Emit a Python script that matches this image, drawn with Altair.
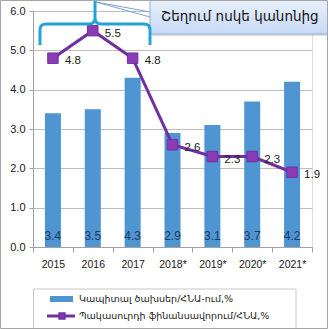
import altair as alt
import pandas as pd

years = ["2015", "2016", "2017", "2018*", "2019*", "2020*", "2021*"]
capex = [3.4, 3.5, 4.3, 2.9, 3.1, 3.7, 4.2]
deficit = [4.8, 5.5, 4.8, 2.6, 2.3, 2.3, 1.9]
series_names = ["Կապիտալ ծախսեր/ՀՆԱ-ում,%", "Պակասուրդի ֆինանսավորում/ՀՆԱ,%"]
callout_text = ["Շեղում ոսկե կանոնից"]
y_ticks = [0, 1, 2, 3, 4, 5, 6]

df = pd.DataFrame({"year": years, "capex": capex, "deficit": deficit})

W, H = 279, 236
BAR = "#4E95D2"
PURPLE = "#7030A0"
MARK = "#8B3BB5"
CYAN = "#24A3D6"
FONT = "Liberation Sans"
ARM = "DejaVu Sans"

xaxis = alt.Axis(labelAngle=0, tickBand="extent", tickSize=5,
                 labelPadding=7, labelFontSize=10.5, labelFont=FONT,
                 labelColor="#202020", domainColor="#A0A0A0",
                 tickColor="#A0A0A0", grid=False)
xscale = alt.Scale(paddingInner=0, paddingOuter=0)
yscale = alt.Scale(domain=[0, 6], nice=False)
yaxis = alt.Axis(values=y_ticks, format=".1f", tickSize=4, labelPadding=4,
                 labelFontSize=11, labelFont=FONT, labelColor="#202020",
                 domainColor="#A0A0A0", tickColor="#A0A0A0",
                 gridColor="#BDBDBD", title=None, labelOverlap=False,
                 tickCount=7)


def X():
    return alt.X("year:N", sort=years, title=None, scale=xscale, axis=xaxis)


def Y(field):
    return alt.Y(field, scale=yscale, axis=yaxis)


base = alt.Chart(df)

bars = base.mark_bar(size=16, color=BAR).encode(x=X(), y=Y("capex:Q"))

bar_labels = base.mark_text(font=FONT, fontSize=12, color="#1F3A60",
                            baseline="middle").encode(
    x=X(), y=alt.value(225),
    text=alt.Text("capex:Q", format=".1f"))

line = base.mark_line(color=PURPLE, strokeWidth=3).encode(
    x=X(), y=Y("deficit:Q"))

pts = base.mark_point(shape="square", filled=True, fill=MARK, stroke=PURPLE,
                      strokeWidth=1, size=110, opacity=1).encode(
    x=X(), y=Y("deficit:Q"))

line_labels = base.mark_text(font=FONT, fontSize=11.5, color="#202020",
                             align="left", baseline="middle", dx=12, dy=3).encode(
    x=X(), y=Y("deficit:Q"),
    text=alt.Text("deficit:Q", format=".1f"))

# Annotation: brace
brace_path = ("M -1 0.4 L -1 0.127 Q -1 0.018 -0.891 0.018 L -0.109 0.018 "
              "Q 0 0.018 0 -0.091 L 0 -0.418 M 0 -0.091 Q 0 0.018 0.109 0.018 "
              "L 0.891 0.018 Q 1 0.018 1 0.127 L 1 0.4")
one = pd.DataFrame({"a": [0]})
brace = alt.Chart(one).mark_point(
    shape=brace_path, filled=False, stroke=CYAN, strokeWidth=3, size=12100,
    opacity=1).encode(x=alt.value(62), y=alt.value(12))

wedge1 = alt.Chart(one).mark_rule(color="#7FA2CC", strokeWidth=1).encode(
    x=alt.value(63), x2=alt.value(117), y=alt.value(-9), y2=alt.value(1))
wedge2 = alt.Chart(one).mark_rule(color="#7FA2CC", strokeWidth=1).encode(
    x=alt.value(63), x2=alt.value(117), y=alt.value(-9), y2=alt.value(6))

shadow = alt.Chart(one).mark_rect(fill="#C8C8C8", opacity=0.6).encode(
    x=alt.value(119), x2=alt.value(312), y=alt.value(-14), y2=alt.value(25))
callout_box = alt.Chart(one).mark_rect(
    fill=alt.Gradient(gradient="linear",
                      stops=[alt.GradientStop(color="#EEF4FD", offset=0),
                             alt.GradientStop(color="#C6D9F5", offset=1)],
                      x1=0, x2=0, y1=0, y2=1),
    stroke="#8EAEDB", strokeWidth=1).encode(
    x=alt.value(117), x2=alt.value(310), y=alt.value(-16), y2=alt.value(23))
callout = alt.Chart(pd.DataFrame({"t": callout_text})).mark_text(
    font=ARM, fontSize=13.5, color="#101010", align="left",
    baseline="middle").encode(x=alt.value(128), y=alt.value(6), text="t:N")

# Legend
legend_box = alt.Chart(one).mark_rect(fill="white", stroke="#C8C8C8",
                                      strokeWidth=1).encode(
    x=alt.value(0.5), x2=alt.value(263), y=alt.value(278), y2=alt.value(318))
leg_bar = alt.Chart(one).mark_rect(fill=BAR).encode(
    x=alt.value(17), x2=alt.value(40), y=alt.value(285), y2=alt.value(291))
leg_line = alt.Chart(one).mark_rule(color=PURPLE, strokeWidth=3).encode(
    x=alt.value(14), x2=alt.value(42), y=alt.value(305))
leg_pt = alt.Chart(one).mark_point(shape="square", filled=True, fill=MARK,
                                   stroke=PURPLE, size=28, opacity=1).encode(
    x=alt.value(29), y=alt.value(305))
leg_df = pd.DataFrame({"name": series_names, "yy": [288, 305]})
leg_text = alt.Chart(leg_df).mark_text(font=ARM, fontSize=9.5, color="#202020",
                                       align="left", baseline="middle").encode(
    x=alt.value(46), y=alt.Y("yy:Q", scale=None), text="name:N")

frame = alt.Chart(one).mark_rect(fill=None, stroke="#A6A6A6",
                                 strokeWidth=1).encode(
    x=alt.value(-32.5), x2=alt.value(294.5), y=alt.value(-10.5),
    y2=alt.value(317.5))

chart = alt.layer(
    bars, bar_labels, line, pts, line_labels,
    legend_box, leg_bar, leg_line, leg_pt, leg_text,
    wedge1, wedge2, shadow, callout_box, callout, brace, frame
).properties(
    width=W, height=H,
    padding={"left": 33, "top": 11, "right": 16, "bottom": 82},
    autosize=alt.AutoSizeParams(type="none"),
).configure_view(stroke=None).configure(background="white")

chart.save("out.html", embed_options={"renderer": "svg", "actions": False})
